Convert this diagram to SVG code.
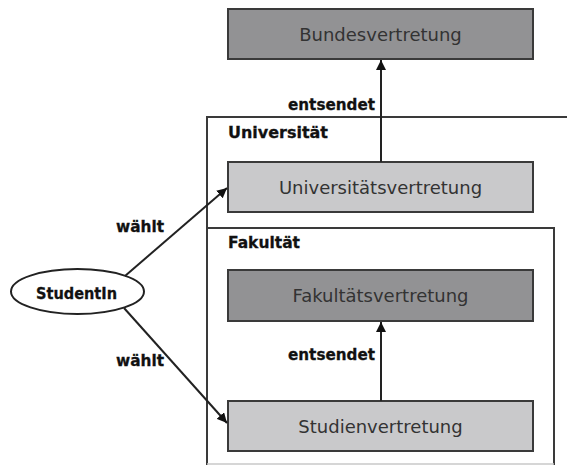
<svg xmlns="http://www.w3.org/2000/svg" width="567" height="465" viewBox="0 0 567 465">
<defs>
<style>
.frame{fill:none;stroke:#3a3a3a;stroke-width:2}
.box{stroke:#3a3a3a;stroke-width:2}
.dark{fill:#929294}
.light{fill:#c9c9cb}
.nt{font-family:"DejaVu Sans",sans-serif;font-size:18px;fill:#333;text-anchor:middle}
.lb{font-family:"DejaVu Sans",sans-serif;font-weight:bold;font-size:16px;fill:#111;stroke:#111;stroke-width:0.3}
.edge{stroke:#222;stroke-width:2;fill:none;marker-end:url(#ah)}
</style>
<marker id="ah" viewBox="0 0 10 10" refX="10" refY="5" markerWidth="5" markerHeight="5" orient="auto" markerUnits="strokeWidth">
<path d="M0,0 L10,5 L0,10 z" fill="#111"/>
</marker>
</defs>
<rect width="567" height="465" fill="#fff"/>
<g id="universitaet">
<path class="frame" d="M567,117 H207 V465"/>
<text class="lb" x="228" y="138" textLength="100" lengthAdjust="spacingAndGlyphs">Universität</text>
</g>
<g id="fakultaet">
<path class="frame" d="M207,465 V228 H554 V465"/>
<line x1="207" y1="464" x2="554" y2="464" stroke="#c8c8c8" stroke-width="1.5"/>
<text class="lb" x="228" y="248" textLength="72" lengthAdjust="spacingAndGlyphs">Fakultät</text>
</g>
<g id="bundesvertretung">
<rect class="box dark" x="228" y="9" width="305" height="50"/>
<text class="nt" x="380.5" y="40.5">Bundesvertretung</text>
</g>
<g id="universitaetsvertretung">
<rect class="box light" x="228" y="162" width="305" height="50"/>
<text class="nt" x="380.5" y="193.5">Universitätsvertretung</text>
</g>
<g id="fakultaetsvertretung">
<rect class="box dark" x="228" y="270" width="305" height="51"/>
<text class="nt" x="380.5" y="302">Fakultätsvertretung</text>
</g>
<g id="studienvertretung">
<rect class="box light" x="228" y="401" width="305" height="50"/>
<text class="nt" x="380.5" y="432.5">Studienvertretung</text>
</g>
<g id="studentin">
<ellipse cx="77.5" cy="291.5" rx="66.5" ry="22.5" fill="#fff" stroke="#222" stroke-width="2"/>
<text class="lb" x="36" y="299" textLength="81" lengthAdjust="spacingAndGlyphs">StudentIn</text>
</g>
<g id="connectors">
<line class="edge" x1="381" y1="162" x2="381" y2="60"/>
<line class="edge" x1="381" y1="401" x2="381" y2="322"/>
<line class="edge" x1="125" y1="276" x2="227" y2="188"/>
<line class="edge" x1="124" y1="308" x2="227" y2="423"/>
<text class="lb" x="288" y="110" textLength="87" lengthAdjust="spacingAndGlyphs">entsendet</text>
<text class="lb" x="288" y="360" textLength="87" lengthAdjust="spacingAndGlyphs">entsendet</text>
<text class="lb" x="116" y="232" textLength="48" lengthAdjust="spacingAndGlyphs">wählt</text>
<text class="lb" x="116" y="366" textLength="48" lengthAdjust="spacingAndGlyphs">wählt</text>
</g>
</svg>
